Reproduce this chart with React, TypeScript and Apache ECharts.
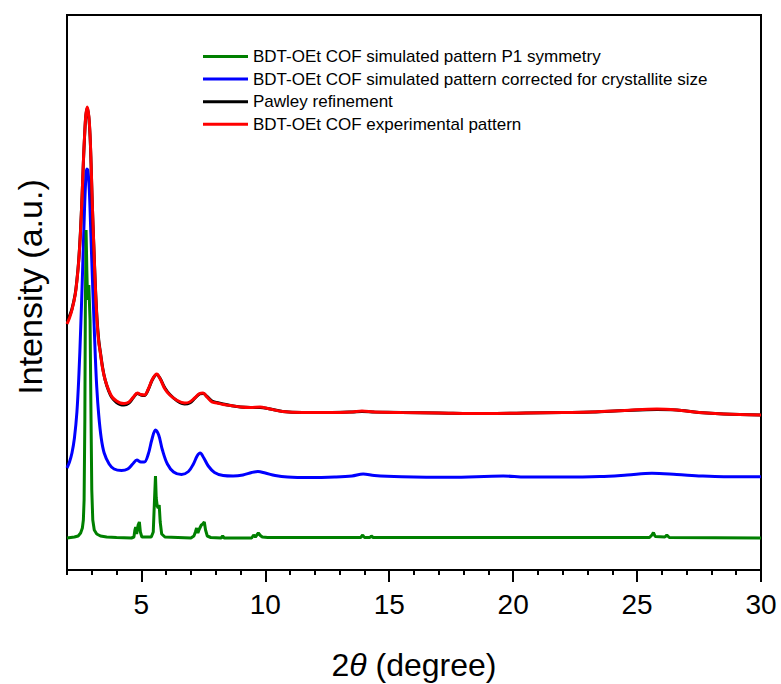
import React, { useEffect, useRef } from "react";
import * as echarts from "echarts";

// 2θ positions (degree) and intensities (a.u., offset for stacking)
const simP1X = [2.0, 2.3, 2.45, 2.55, 2.62, 2.66, 2.69, 2.72, 2.74, 2.77, 2.8, 2.83, 2.88, 2.93, 2.97, 3.0, 3.04, 3.1, 3.2, 3.35, 3.6, 4.0, 4.6, 4.7, 4.74, 4.77, 4.81, 4.87, 4.92, 4.96, 5.02, 5.4, 5.48, 5.53, 5.57, 5.6, 5.64, 5.68, 5.72, 5.76, 5.82, 5.95, 7.0, 7.12, 7.18, 7.23, 7.28, 7.34, 7.42, 7.48, 7.54, 7.59, 7.66, 7.8, 8.22, 8.28, 8.34, 9.45, 9.53, 9.6, 9.72, 9.8, 9.88, 10.1, 13.85, 13.93, 14.0, 14.22, 14.28, 14.35, 20.0, 25.5, 25.6, 25.66, 25.73, 26.12, 26.2, 26.3, 30.0];
const simP1Y = [32, 33, 34, 37, 42, 50, 70, 150, 260, 340, 300, 270, 285, 250, 150, 80, 50, 40, 36, 34, 33, 32.5, 32, 33, 40, 43, 36, 45, 48, 38, 33, 33, 38, 70, 94, 72, 64, 62, 65, 48, 36, 33, 32, 34, 38, 42, 37, 41, 45, 46, 48, 40, 34, 32.5, 32, 34, 32, 32, 35, 33, 37, 34.5, 33, 32.5, 32.5, 35, 32.5, 32.5, 34, 32.5, 32.5, 32.5, 35, 37.5, 33.5, 33, 35, 32.5, 32];

const simCorrX = [2.0, 2.1, 2.2, 2.3, 2.4, 2.48, 2.55, 2.62, 2.68, 2.74, 2.8, 2.84, 2.9, 2.96, 3.02, 3.08, 3.14, 3.2, 3.28, 3.38, 3.5, 3.7, 3.9, 4.2, 4.45, 4.65, 4.82, 4.98, 5.12, 5.28, 5.42, 5.57, 5.7, 5.85, 6.05, 6.3, 6.62, 6.9, 7.1, 7.25, 7.37, 7.52, 7.7, 7.95, 8.3, 8.7, 9.1, 9.45, 9.7, 10.0, 10.4, 10.9, 11.8, 12.8, 13.5, 13.95, 14.4, 15.5, 17.45, 19.6, 20.5, 22.0, 23.5, 24.6, 25.6, 26.6, 27.6, 28.5, 30.0];
const simCorrY = [102, 108, 117, 132, 158, 195, 240, 292, 340, 382, 401, 400, 380, 338, 295, 255, 215, 183, 155, 132, 117, 106, 101, 99.5, 101, 106, 110, 108, 108, 116, 130, 140, 135, 120, 106, 98, 95.5, 98.5, 106, 114, 117, 112, 104, 97.5, 94.5, 94, 95, 97.5, 98.5, 97, 94.5, 93, 92.5, 93, 94, 96, 94.5, 93.3, 92.7, 94, 93, 93, 93.5, 95, 96.7, 95.5, 94, 93.3, 93.3];

const pawleyX = [2.0, 2.1, 2.2, 2.33, 2.4, 2.47, 2.54, 2.61, 2.66, 2.71, 2.76, 2.82, 2.88, 2.93, 2.97, 3.01, 3.05, 3.08, 3.14, 3.21, 3.28, 3.34, 3.44, 3.54, 3.68, 3.82, 4.0, 4.15, 4.3, 4.5, 4.68, 4.84, 4.98, 5.12, 5.28, 5.45, 5.62, 5.76, 5.95, 6.15, 6.45, 6.75, 6.95, 7.15, 7.35, 7.49, 7.65, 7.85, 8.05, 8.3, 8.6, 9.0, 9.4, 9.79, 10.1, 10.7, 11.5, 12.5, 13.5, 13.9, 14.4, 15.5, 17.0, 18.9, 20.5, 22.0, 23.2, 24.5, 25.8, 26.6, 27.5, 28.5, 30.0];
const pawleyY = [249, 254, 261, 276, 290, 309, 337, 375, 407, 434, 454, 462, 453, 434, 407, 374, 345, 326, 287, 252, 230, 219, 202, 190, 179, 172, 167.5, 165.5, 165, 167, 172.5, 176.5, 175, 174.5, 180.5, 190.5, 195.5, 191.5, 182, 175.5, 169, 166, 167, 171.5, 176, 176.5, 173.5, 169, 167.5, 166, 164.5, 163, 162.5, 162.5, 161.5, 158.5, 157.5, 157.5, 158, 158.5, 158, 157.5, 157, 156.5, 157, 157.5, 158, 159.5, 160.5, 160, 157.5, 156, 155];

const exptX = [2.0, 2.1, 2.2, 2.33, 2.4, 2.47, 2.54, 2.61, 2.66, 2.71, 2.76, 2.82, 2.88, 2.93, 2.97, 3.01, 3.05, 3.08, 3.14, 3.21, 3.28, 3.34, 3.44, 3.54, 3.68, 3.82, 4.0, 4.15, 4.3, 4.5, 4.68, 4.84, 4.98, 5.12, 5.28, 5.45, 5.62, 5.76, 5.95, 6.15, 6.45, 6.75, 6.95, 7.15, 7.35, 7.49, 7.65, 7.85, 8.05, 8.3, 8.6, 9.0, 9.4, 9.79, 10.1, 10.7, 11.5, 12.5, 13.5, 13.9, 14.4, 15.5, 17.0, 18.9, 20.5, 22.0, 23.2, 24.5, 25.8, 26.6, 27.5, 28.5, 30.0];
const exptY = [246, 252, 260, 275, 289, 308, 336, 375, 408, 435, 455, 463, 454, 435, 408, 375, 345, 325, 285, 250, 228, 218, 201, 190, 180, 173, 169, 167, 166.5, 168, 173, 177, 175.5, 175, 181, 191, 196, 191, 181, 175, 169.5, 167, 168, 172, 176.5, 177, 173, 168, 167, 165.5, 164.5, 163, 162.5, 163, 161.5, 158.5, 157.5, 157.5, 158, 159, 158, 157.5, 157, 156.5, 157, 157.5, 158, 159.5, 161, 160, 157.5, 156, 155];

const majorTicks = [5, 10, 15, 20, 25, 30];
const minorTicks = [2, 3, 4, 6, 7, 8, 9, 11, 12, 13, 14, 16, 17, 18, 19, 21, 22, 23, 24, 26, 27, 28, 29];

const FONT = 'Arial, "Liberation Sans", sans-serif';

const zip = (xs: number[], ys: number[]) => xs.map((x, i) => [x, ys[i]]);

const lineSeries = (name: string, color: string, data: number[][], smooth: boolean) => ({
  type: "line",
  name,
  data,
  showSymbol: false,
  symbol: "none",
  smooth: smooth ? 0.35 : false,
  lineStyle: { color, width: 3 },
  itemStyle: { color },
  xAxisIndex: 0,
  yAxisIndex: 0,
});

export default function App() {
  const ref = useRef<HTMLDivElement>(null);

  useEffect(() => {
    if (!ref.current) return;
    const chart = echarts.init(ref.current, undefined, { renderer: "svg" });
    const nP1 = "BDT-OEt COF simulated pattern P1 symmetry";
    const nCorr = "BDT-OEt COF simulated pattern corrected for crystallite size";
    const nPawley = "Pawley refinement";
    const nExpt = "BDT-OEt COF experimental pattern";

    chart.setOption({
      animation: false,
      backgroundColor: "#ffffff",
      grid: {
        left: 67,
        right: 20,
        top: 15,
        bottom: 114,
        show: true,
        borderColor: "#000",
        borderWidth: 2,
        backgroundColor: "transparent",
      },
      legend: {
        data: [nP1, nCorr, nPawley, nExpt],
        orient: "vertical",
        left: 198,
        top: 42,
        icon: "rect",
        itemWidth: 45,
        itemHeight: 3,
        itemGap: 3.6,
        selectedMode: false,
        textStyle: { fontFamily: FONT, fontSize: 17, color: "#000", lineHeight: 19 },
      },
      xAxis: [
        {
          type: "value",
          min: 2,
          max: 30,
          position: "bottom",
          axisLine: { show: true, onZero: false, lineStyle: { color: "#000", width: 2 } },
          axisTick: { show: true, inside: false, length: 12, customValues: majorTicks, lineStyle: { color: "#000", width: 2 } },
          axisLabel: { customValues: majorTicks, fontFamily: FONT, fontSize: 28, color: "#000", margin: 20 },
          splitLine: { show: false },
        },
        {
          type: "value",
          min: 2,
          max: 30,
          position: "bottom",
          axisLine: { show: false },
          axisTick: { show: true, inside: false, length: 5, customValues: minorTicks, lineStyle: { color: "#000", width: 2 } },
          axisLabel: { show: false },
          splitLine: { show: false },
        },
      ],
      yAxis: {
        type: "value",
        min: 0,
        max: 555,
        axisLine: { show: true, onZero: false, lineStyle: { color: "#000", width: 2 } },
        axisTick: { show: false },
        axisLabel: { show: false },
        splitLine: { show: false },
      },
      graphic: [
        {
          type: "text",
          x: 30,
          y: 287,
          rotation: Math.PI / 2,
          style: {
            text: "Intensity (a.u.)",
            font: `34px ${FONT}`,
            fill: "#000",
            align: "center",
            verticalAlign: "middle",
          },
        },
        {
          type: "text",
          x: 414,
          y: 665,
          style: {
            text: "{a|2}{b|θ}{a| (degree)}",
            align: "center",
            verticalAlign: "middle",
            rich: {
              a: { fontFamily: FONT, fontSize: 32, fill: "#000" },
              b: { fontFamily: FONT, fontSize: 32, fontStyle: "italic", fill: "#000" },
            },
          },
        },
      ],
      series: [
        lineSeries(nCorr, "#0000ff", zip(simCorrX, simCorrY), true),
        lineSeries(nP1, "#008000", zip(simP1X, simP1Y), false),
        lineSeries(nPawley, "#000000", zip(pawleyX, pawleyY), true),
        lineSeries(nExpt, "#ff0000", zip(exptX, exptY), true),
      ],
    });
    return () => chart.dispose();
  }, []);

  return (
    <div
      ref={ref}
      style={{ position: "fixed", left: 0, top: 0, width: 781, height: 684, background: "#fff" }}
    />
  );
}
